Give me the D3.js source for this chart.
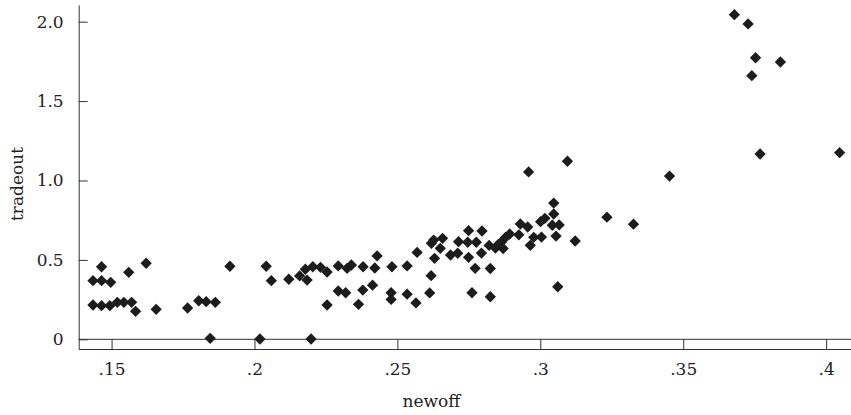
<!DOCTYPE html>
<html>
<head>
<meta charset="utf-8">
<script src="https://cdn.jsdelivr.net/npm/d3@7"></script>
<style>
  body { margin: 0; background: #fff; }
  .axis text { font-family: "DejaVu Serif", serif; font-size: 17px; fill: #222; }
  .axis path, .axis line { stroke: #333; }
  .axisText { font-family: "DejaVu Serif", serif; font-size: 17px; fill: #222; }
</style>
</head>
<body>
<div id="scatter"></div>
<script>
// data
var newoff = [
  0.1435, 0.1465, 0.1465, 0.1497, 0.1435, 0.1465, 0.1494, 0.152, 0.1543, 0.157,
  0.1584, 0.156, 0.1621, 0.1656, 0.1766, 0.1805, 0.1831, 0.1863, 0.1845, 0.1914,
  0.2019, 0.2041, 0.2059,
  0.212, 0.2158, 0.2184, 0.2178, 0.2204, 0.2231, 0.2254, 0.2293, 0.2324, 0.2339,
  0.238, 0.2421, 0.2429, 0.2481, 0.2534, 0.2569, 0.2619, 0.2627, 0.2658, 0.265,
  0.263, 0.2618, 0.2613, 0.2565, 0.2534, 0.2478, 0.2478, 0.2413, 0.2379, 0.2364,
  0.2319, 0.2293, 0.2254, 0.2198, 0.2686, 0.2711, 0.2714, 0.2749, 0.2746, 0.2776,
  0.2749, 0.2772, 0.2761,
  0.2796, 0.2821, 0.2794, 0.2825, 0.2825, 0.2843, 0.2864, 0.2853, 0.287, 0.2878,
  0.2893, 0.2925, 0.293, 0.2956, 0.2965, 0.2977, 0.3004, 0.3001, 0.3016, 0.3047,
  0.3047, 0.3042, 0.3066, 0.3055, 0.3061, 0.3122, 0.3233, 0.3326, 0.2959, 0.3095,
  0.3679, 0.3727, 0.3753, 0.384, 0.374, 0.3769, 0.4047, 0.3452
];
var tradeout = [
  0.369, 0.457, 0.369, 0.359, 0.216, 0.212, 0.212, 0.233, 0.233, 0.233,
  0.176, 0.422, 0.479, 0.189, 0.197, 0.243, 0.237, 0.233, 0.006, 0.46,
  0.002, 0.46, 0.369,
  0.378, 0.399, 0.373, 0.441, 0.457, 0.453, 0.424, 0.462, 0.447, 0.468,
  0.457, 0.449, 0.525, 0.457, 0.462, 0.547, 0.605, 0.625, 0.636, 0.573,
  0.51, 0.401, 0.292, 0.229, 0.284, 0.293, 0.251, 0.341, 0.31, 0.22,
  0.293, 0.304, 0.216, 0.002, 0.531, 0.542, 0.615, 0.684, 0.611, 0.611,
  0.516, 0.447, 0.293,
  0.682, 0.591, 0.543, 0.446, 0.268, 0.575, 0.613, 0.597, 0.572, 0.641,
  0.663, 0.658, 0.726, 0.707, 0.592, 0.642, 0.644, 0.741, 0.762, 0.789,
  0.858, 0.718, 0.72, 0.65, 0.331, 0.619, 0.769, 0.725, 1.054, 1.121,
  2.044, 1.986, 1.773, 1.746, 1.66, 1.167, 1.175, 1.028
];
var xTicks = [0.15, 0.2, 0.25, 0.3, 0.35, 0.4];
var xTickLabels = [".15", ".2", ".25", ".3", ".35", ".4"];
var yTicks = [0, 0.5, 1, 1.5, 2];
var yTickLabels = ["0", "0.5", "1.0", "1.5", "2.0"];

var svgWidth = 851;
var svgHeight = 415;

var svg = d3.select("#scatter").append("svg")
  .attr("width", svgWidth)
  .attr("height", svgHeight);

// scales: axis runs a bit past the tick range on both ends
var xLinearScale = d3.scaleLinear()
  .domain([0.1385, 0.4087])
  .range([78.7, 851]);

var yLinearScale = d3.scaleLinear()
  .domain([-0.061, 2.105])
  .range([349, 5]);

var xAxis = d3.axisBottom(xLinearScale)
  .tickValues(xTicks)
  .tickFormat((d, i) => xTickLabels[i])
  .tickSizeInner(-10)
  .tickSizeOuter(0)
  .tickPadding(14);

var yAxis = d3.axisLeft(yLinearScale)
  .tickValues(yTicks)
  .tickFormat((d, i) => yTickLabels[i])
  .tickSizeInner(-9)
  .tickSizeOuter(0)
  .tickPadding(15);

svg.append("g")
  .attr("class", "axis")
  .attr("transform", "translate(0, 349)")
  .call(xAxis);

svg.append("g")
  .attr("class", "axis")
  .attr("transform", "translate(78.7, 0)")
  .call(yAxis);

// zero line across the plot
svg.append("line")
  .attr("x1", xLinearScale.range()[0])
  .attr("x2", xLinearScale.range()[1])
  .attr("y1", yLinearScale(0))
  .attr("y2", yLinearScale(0))
  .attr("stroke", "#333");

var points = newoff.map((d, i) => ({ x: d, y: tradeout[i] }));

svg.append("g")
  .selectAll("path")
  .data(points)
  .enter()
  .append("path")
  .attr("d", d3.symbol(d3.symbolSquare, 64))
  .attr("transform", d => `translate(${xLinearScale(d.x)}, ${yLinearScale(d.y)}) rotate(45)`)
  .attr("fill", "#1c1c1c");

// axis titles
svg.append("text")
  .attr("class", "axisText")
  .attr("transform", "translate(23, 184) rotate(-90)")
  .attr("text-anchor", "middle")
  .text("tradeout");

svg.append("text")
  .attr("class", "axisText")
  .attr("x", 431.5)
  .attr("y", 407)
  .attr("text-anchor", "middle")
  .text("newoff");
</script>
</body>
</html>
